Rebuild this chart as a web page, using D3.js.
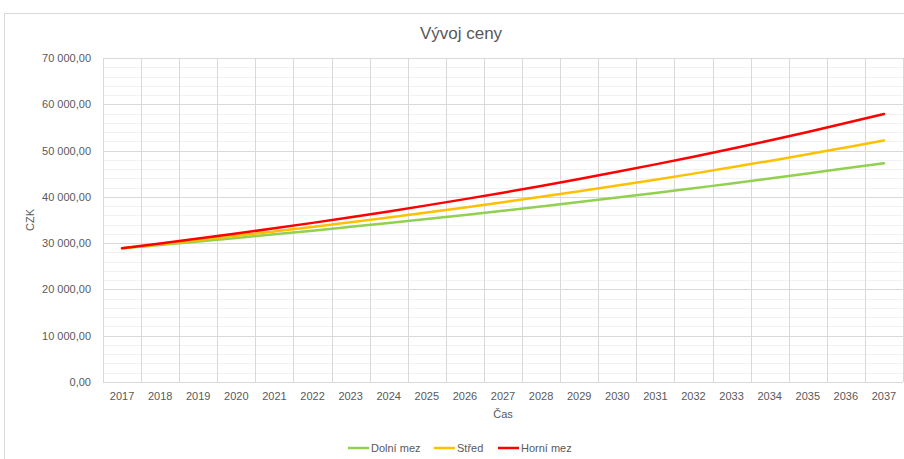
<!DOCTYPE html>
<html lang="cs">
<head>
<meta charset="utf-8">
<title>Vývoj ceny</title>
<script src="https://cdn.jsdelivr.net/npm/d3@7"></script>
<style>
  body { margin: 0; background: #fff; }
  svg { display: block; font-family: "Liberation Sans", Arial, sans-serif; }
</style>
</head>
<body>
<svg width="904" height="459"></svg>
<script>

// data
const years = ["2017","2018","2019","2020","2021","2022","2023","2024","2025","2026","2027",
  "2028","2029","2030","2031","2032","2033","2034","2035","2036","2037"];
const dolniMez = [28900, 29620, 30360, 31120, 31900, 32700, 33520, 34350, 35210, 36090, 36990,
  37920, 38870, 39840, 40830, 41860, 42900, 43970, 45070, 46200, 47240];
const stred = [28900, 29770, 30660, 31580, 32530, 33500, 34510, 35540, 36610, 37710, 38840,
  40000, 41200, 42440, 43710, 45020, 46380, 47770, 49200, 50680, 52170];
const horniMez = [28900, 29920, 30980, 32070, 33200, 34380, 35600, 36860, 38160, 39510, 40910,
  42360, 43860, 45410, 47020, 48680, 50400, 52190, 54030, 55940, 57920];
const yTicks = [0, 10000, 20000, 30000, 40000, 50000, 60000, 70000];
const seriesNames = ["Dolní mez", "Střed", "Horní mez"];
const seriesColors = ["#92d050", "#ffc000", "#ff0000"];

const svg = d3.select("svg");
const plot = {left: 103, right: 903, top: 58, bottom: 382};
const textCol = "#595959";

// chart frame
svg.append("rect")
  .attr("x", 4.5).attr("y", 13.5)
  .attr("width", 920).attr("height", 470)
  .attr("fill", "#fff").attr("stroke", "#d9d9d9");

const x = d3.scaleBand().domain(years).range([plot.left, plot.right]);
const y = d3.scaleLinear().domain([0, 70000]).range([plot.bottom, plot.top]);

// minor horizontal grid every 2000
const minor = d3.range(0, 70001, 2000).filter(v => v % 10000 !== 0);
svg.append("g").selectAll("line").data(minor).enter().append("line")
  .attr("x1", plot.left).attr("x2", plot.right)
  .attr("y1", d => Math.round(y(d)) + 0.5).attr("y2", d => Math.round(y(d)) + 0.5)
  .attr("stroke", "#f2f2f2");

// vertical grid between categories
const vLines = years.map(d => x(d)).concat([plot.right]);
svg.append("g").selectAll("line").data(vLines).enter().append("line")
  .attr("x1", d => Math.round(d) + 0.5).attr("x2", d => Math.round(d) + 0.5)
  .attr("y1", plot.top).attr("y2", plot.bottom)
  .attr("stroke", "#d9d9d9");

// major horizontal grid
svg.append("g").selectAll("line").data(yTicks).enter().append("line")
  .attr("x1", plot.left).attr("x2", plot.right)
  .attr("y1", d => Math.round(y(d)) + 0.5).attr("y2", d => Math.round(y(d)) + 0.5)
  .attr("stroke", "#d9d9d9");

// y axis labels
const fmt = v => d3.format(",.2f")(v).replace(/,/g, " ").replace(".", ",");
const yAxis = svg.append("g")
  .attr("transform", "translate(" + (plot.left - 12) + ",0)")
  .call(d3.axisLeft(y).tickValues(yTicks).tickFormat(fmt).tickSize(0).tickPadding(0));
yAxis.select(".domain").remove();
yAxis.selectAll("text").attr("fill", textCol).attr("font-size", 11).attr("font-family", "Liberation Sans, Arial, sans-serif");

// x axis labels
const xAxis = svg.append("g")
  .attr("transform", "translate(0," + (plot.bottom + 10) + ")")
  .call(d3.axisBottom(x).tickSize(0).tickPadding(0));
xAxis.select(".domain").remove();
xAxis.selectAll("text").attr("fill", textCol).attr("font-size", 11).attr("font-family", "Liberation Sans, Arial, sans-serif");

// lines
const allSeries = [dolniMez, stred, horniMez];
const line = d3.line()
  .x((d, i) => x(years[i]) + x.bandwidth() / 2)
  .y(d => y(d))
  .curve(d3.curveMonotoneX);
svg.append("g").selectAll("path").data(allSeries).enter().append("path")
  .attr("d", line)
  .attr("fill", "none")
  .attr("stroke", (d, i) => seriesColors[i])
  .attr("stroke-width", 2.5)
  .attr("stroke-linecap", "round");

// titles
svg.append("text")
  .attr("x", 461).attr("y", 39)
  .attr("text-anchor", "middle")
  .attr("font-size", 17).attr("fill", textCol)
  .text("Vývoj ceny");

svg.append("text")
  .attr("transform", "translate(34,220) rotate(-90)")
  .attr("text-anchor", "middle")
  .attr("font-size", 11).attr("fill", textCol)
  .text("CZK");

svg.append("text")
  .attr("x", 503).attr("y", 418)
  .attr("text-anchor", "middle")
  .attr("font-size", 11).attr("fill", textCol)
  .text("Čas");

// legend
const legendX = [348, 434, 498];
const legend = svg.append("g").selectAll("g").data(seriesNames).enter().append("g")
  .attr("transform", (d, i) => "translate(" + legendX[i] + ",448)");
legend.append("line")
  .attr("x1", 0).attr("x2", 21)
  .attr("stroke", (d, i) => seriesColors[i])
  .attr("stroke-width", 2.5);
legend.append("text")
  .attr("x", 23).attr("y", 4)
  .attr("font-size", 11).attr("fill", textCol)
  .text(d => d);

</script>
</body>
</html>
